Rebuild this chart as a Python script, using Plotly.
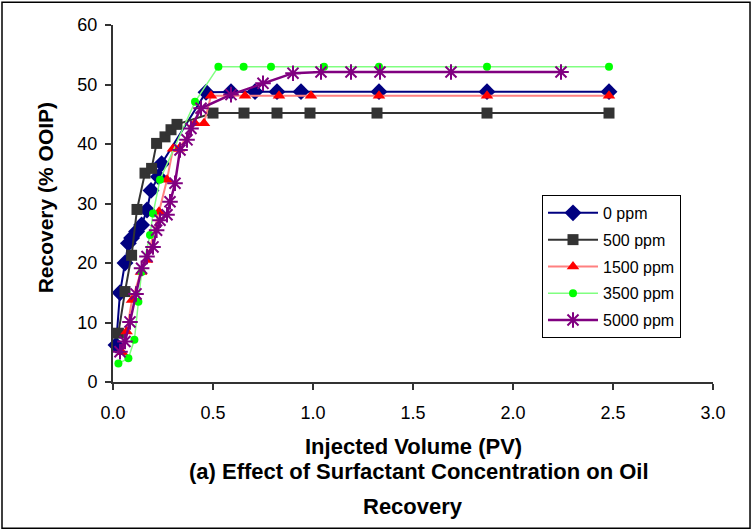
import plotly.graph_objects as go

# Injected pore volumes (PV) and cumulative oil recovery (% OOIP) per surfactant concentration
pv_0 = [0.015, 0.035, 0.06, 0.077, 0.093, 0.118, 0.143, 0.17, 0.19, 0.227, 0.243,
        0.465, 0.59, 0.71, 0.82, 0.94, 1.33, 1.87, 2.48]
rec_0 = [6.2, 15.0, 20.0, 23.3, 24.2, 25.3, 26.4, 28.9, 32.2, 34.5, 36.7,
         48.7, 48.8, 48.8, 48.8, 48.8, 48.8, 48.8, 48.8]

pv_500 = [0.027, 0.06, 0.093, 0.12, 0.16, 0.193, 0.218, 0.26, 0.29, 0.32,
          0.50, 0.655, 0.82, 0.985, 1.32, 1.87, 2.48]
rec_500 = [8.2, 15.2, 21.3, 29.0, 35.1, 35.9, 40.1, 41.2, 42.4, 43.3,
           45.2, 45.2, 45.2, 45.2, 45.2, 45.2, 45.2]

pv_1500 = [0.045, 0.068, 0.095, 0.14, 0.17, 0.23, 0.27, 0.30, 0.33, 0.41, 0.455,
           0.49, 0.66, 0.83, 0.99, 1.33, 1.87, 2.48]
rec_1500 = [5.0, 8.5, 13.8, 18.5, 20.5, 28.6, 34.0, 39.2, 39.2, 43.5, 43.5,
            48.1, 48.1, 48.1, 48.1, 48.1, 48.1, 48.1]

pv_3500 = [0.027, 0.077, 0.107, 0.127, 0.143, 0.185, 0.20, 0.235, 0.41,
           0.527, 0.653, 0.79, 1.055, 1.33, 1.87, 2.48]
rec_3500 = [3.1, 4.0, 7.1, 13.5, 18.5, 24.7, 28.3, 34.0, 47.1,
            53.0, 53.0, 53.0, 53.0, 53.0, 53.0, 53.0]

pv_5000 = [0.035, 0.06, 0.085, 0.115, 0.143, 0.17, 0.20, 0.218, 0.235, 0.27, 0.285,
           0.31, 0.335, 0.37, 0.39, 0.44, 0.59, 0.75, 0.90, 1.04, 1.19, 1.335, 1.69, 2.24]
rec_5000 = [5.1, 6.8, 10.1, 14.8, 19.1, 21.1, 22.7, 25.5, 27.2, 28.1, 30.3,
            33.4, 39.0, 40.7, 42.6, 46.0, 48.3, 50.2, 51.9, 52.1, 52.1, 52.1, 52.1, 52.1]

x_ticks = [0.0, 0.5, 1.0, 1.5, 2.0, 2.5, 3.0]
y_ticks = [0, 10, 20, 30, 40, 50, 60]

FONT = "Arial, 'Liberation Sans', sans-serif"

series = [
    ("0 ppm", pv_0, rec_0, dict(color="#000080", width=2),
     dict(symbol="diamond", size=13, color="#000080")),
    ("500 ppm", pv_500, rec_500, dict(color="#333333", width=2),
     dict(symbol="square", size=11, color="#333333")),
    ("1500 ppm", pv_1500, rec_1500, dict(color="#ff8080", width=2),
     dict(symbol="triangle-up", size=11, color="#ff0000")),
    ("3500 ppm", pv_3500, rec_3500, dict(color="#80ff80", width=1.5),
     dict(symbol="circle", size=8, color="#00ff00")),
    ("5000 ppm", pv_5000, rec_5000, dict(color="#800080", width=2.5),
     dict(symbol="asterisk-open", size=13, color="#800080",
          line=dict(color="#800080", width=2))),
]

fig = go.Figure()
for i, (name, xs, ys, line, marker) in enumerate(series):
    fig.add_trace(go.Scatter(
        x=xs, y=ys, name=name, mode="lines+markers",
        line=line, marker=marker, cliponaxis=False,
        legendgroup=f"g{i}",
    ))

fig.update_layout(
    width=753, height=532,
    margin=dict(l=113, r=40, t=25, b=150),
    paper_bgcolor="white", plot_bgcolor="white",
    font=dict(family=FONT, color="black"),
    showlegend=True,
    legend=dict(
        x=0.715, y=0.524, xanchor="left", yanchor="top",
        bordercolor="black", borderwidth=1, bgcolor="white",
        font=dict(size=16, family=FONT),
        tracegroupgap=3, traceorder="grouped",
        itemwidth=50,
    ),
    xaxis=dict(
        range=[0, 3], tickvals=x_ticks, tickformat=".1f",
        showgrid=False, zeroline=False,
        showline=True, linecolor="#333333", linewidth=2,
        ticks="outside", ticklen=6, tickwidth=1.5, tickcolor="#333333",
        tickfont=dict(size=18), ticklabelstandoff=7,
    ),
    yaxis=dict(
        range=[0, 60], tickvals=y_ticks,
        showgrid=False, zeroline=False,
        showline=True, linecolor="#333333", linewidth=2,
        ticks="outside", ticklen=6, tickwidth=1.5, tickcolor="#333333",
        tickfont=dict(size=18), ticklabelstandoff=4,
    ),
    shapes=[dict(
        type="rect", xref="paper", yref="paper",
        x0=-0.185, x1=1.0617, y0=-0.410, y1=1.064,
        line=dict(color="black", width=1.5), fillcolor="rgba(0,0,0,0)",
        layer="above",
    )],
    annotations=[
        dict(text="<b>Recovery (% OOIP)</b>", xref="paper", yref="paper",
             x=-0.113, y=0.515, textangle=-90, showarrow=False,
             font=dict(size=21), xanchor="center", yanchor="middle"),
        dict(text="<b>Injected Volume (PV)</b>", xref="paper", yref="paper",
             x=0.5, y=-0.180, showarrow=False, font=dict(size=22),
             xanchor="center", yanchor="middle"),
        dict(text="<b>(a) Effect of Surfactant Concentration on Oil</b>",
             xref="paper", yref="paper", x=0.51, y=-0.252, showarrow=False,
             font=dict(size=22), xanchor="center", yanchor="middle"),
        dict(text="<b>Recovery</b>", xref="paper", yref="paper",
             x=0.5, y=-0.348, showarrow=False, font=dict(size=22),
             xanchor="center", yanchor="middle"),
    ],
)

fig.write_html("out.html")
